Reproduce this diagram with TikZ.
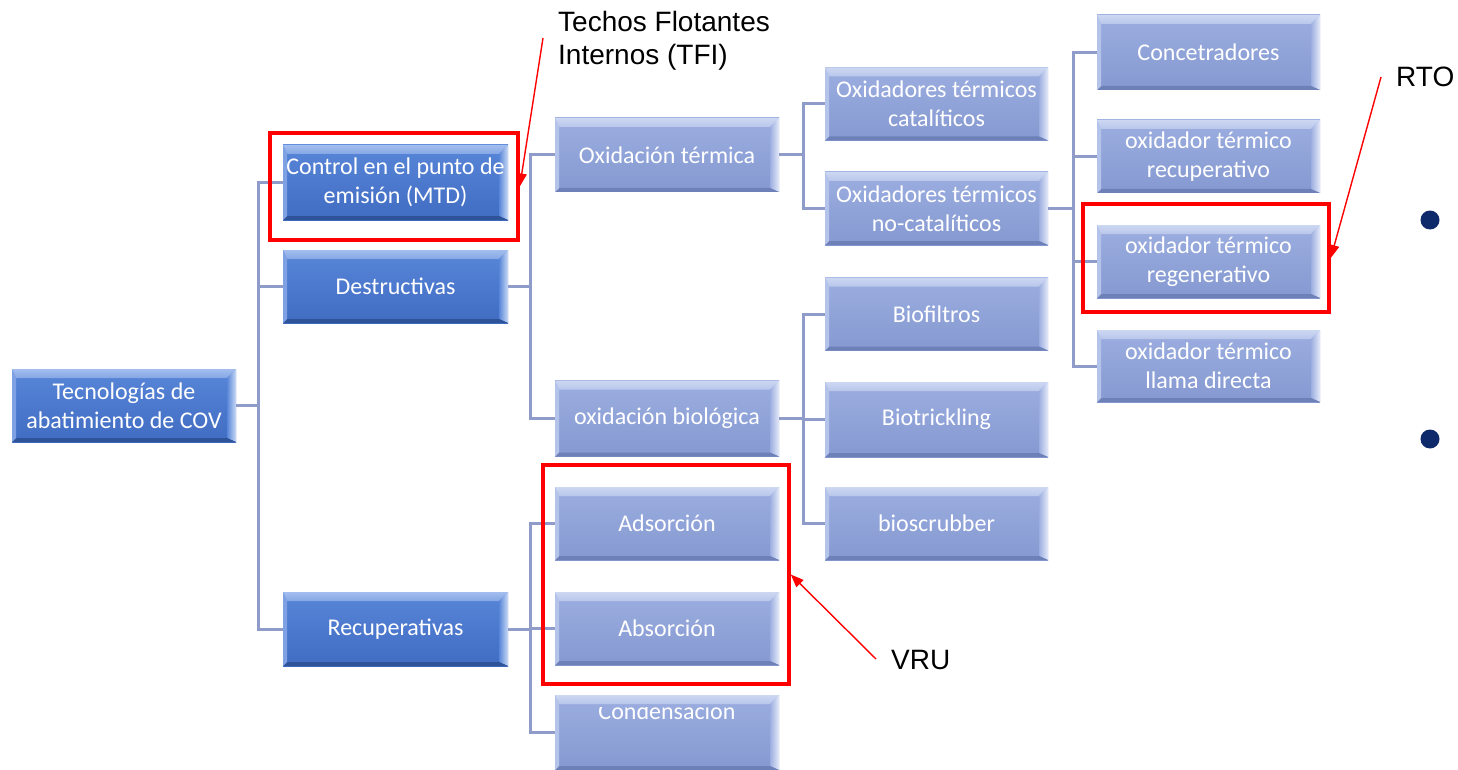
\documentclass[tikz,border=0pt]{standalone}
\usepackage{fontspec}
\newfontfamily\boxfont{Carlito}
\newfontfamily\notefont{Liberation Sans}
\usetikzlibrary{arrows.meta}

% box palettes: fill top, fill bottom, top bevel, right bevel, bottom edge
\definecolor{darkTop}{HTML}{5886D8}
\definecolor{darkBot}{HTML}{406CC2}
\definecolor{darkHi}{HTML}{A3BDEE}
\definecolor{darkSide}{HTML}{CBDAF6}
\definecolor{darkLow}{HTML}{2F5398}
\definecolor{lightTop}{HTML}{9CAEE0}
\definecolor{lightBot}{HTML}{8599D1}
\definecolor{lightHi}{HTML}{CCD7F2}
\definecolor{lightSide}{HTML}{E4EAF9}
\definecolor{lightLow}{HTML}{6E80B8}
\definecolor{linkLine}{HTML}{8F9BC8}
\definecolor{bulletNavy}{HTML}{0E2A6B}
\definecolor{markRed}{HTML}{FF0000}

\tikzset{
  boxtext/.style={text=white, font=\boxfont\fontsize{24pt}{29pt}\selectfont, align=center, inner sep=0pt},
  bev/.style n args={5}{
    boxtext, rectangle, minimum width=224pt, minimum height=74pt,
    top color=#1, bottom color=#2, draw=none,
    path picture={
      \path (path picture bounding box.north west) coordinate (bNW)
            (path picture bounding box.north east) coordinate (bNE)
            (path picture bounding box.south west) coordinate (bSW)
            (path picture bounding box.south east) coordinate (bSE);
      \shade[top color=#3, bottom color=#3!60!#1]
        (bNW) -- (bNE) -- ([xshift=-9pt,yshift=-9pt]bNE) -- ([xshift=4pt,yshift=-9pt]bNW) -- cycle;
      \shade[left color=#1, right color=#4]
        (bNE) -- (bSE) -- ([xshift=-9pt,yshift=4pt]bSE) -- ([xshift=-9pt,yshift=-9pt]bNE) -- cycle;
      \fill[#5]
        (bSE) -- (bSW) -- ([xshift=4pt,yshift=4pt]bSW) -- ([xshift=-9pt,yshift=4pt]bSE) -- cycle;
      \fill[#3!50!#1]
        (bSW) -- (bNW) -- ([xshift=4pt,yshift=-9pt]bNW) -- ([xshift=4pt,yshift=4pt]bSW) -- cycle;
    }},
  darkbox/.style={bev={darkTop}{darkBot}{darkHi}{darkSide}{darkLow}},
  lightbox/.style={bev={lightTop}{lightBot}{lightHi}{lightSide}{lightLow}, minimum width=223pt, minimum height=73pt},
  link/.style={draw=linkLine, line width=3pt},
  markframe/.style={draw=markRed, line width=3.5pt, rectangle, inner sep=0pt},
  callout/.style={draw=markRed, line width=1.4pt, -{Triangle[length=13pt,width=10pt]}},
  note/.style={font=\notefont\fontsize{28pt}{33pt}\selectfont, text=black, inner sep=0pt},
  dot/.style={circle, fill=bulletNavy, minimum size=19pt, inner sep=0pt}
}

\begin{document}
\begin{tikzpicture}[x=1pt, y=-1pt]
\useasboundingbox (0,0) rectangle (1458,770);
\fill[white] (0,0) rectangle (1458,770);

% ---- boxes: root and first level
\node[darkbox, minimum height=73pt] (root) at (124,405.5) {Tecnologías de\\abatimiento de COV};
\node[darkbox, minimum width=225pt, minimum height=75pt] (ctrl) at (395.5,182.5) {Control en el punto de\\emisión (MTD)};
\node[darkbox, minimum width=225pt, minimum height=73pt] (dest) at (395.5,286.5) {Destructivas};
\node[darkbox, minimum width=225pt] (recu) at (395.5,629) {Recuperativas};

% ---- second level
\node[lightbox, minimum width=224pt, minimum height=74pt] (oxt) at (667,155) {Oxidación térmica};
\node[lightbox, minimum width=224pt, minimum height=76pt] (oxb) at (667,418.5) {oxidación biológica};
\node[lightbox, minimum width=224pt] (ads) at (667,523.5) {Adsorción};
\node[lightbox, minimum width=224pt] (abs) at (667,628.5) {Absorción};
\node[lightbox, minimum width=224pt, minimum height=75pt] (cond) at (667,732.5) {};
\begin{scope}
  \clip ([yshift=-13pt]cond.north west) rectangle (cond.south east);
  \node[boxtext, anchor=base] (condtext) at (667,719) {Condensación};
\end{scope}

% ---- third level
\node[lightbox] (cat) at (936.5,104) {Oxidadores térmicos\\catalíticos};
\node[lightbox] (ncat) at (936.5,208.5) {Oxidadores térmicos\\no-catalíticos};
\node[lightbox] (biof) at (936.5,314) {Biofiltros};
\node[lightbox, minimum height=75pt] (biot) at (936.5,419.5) {Biotrickling};
\node[lightbox] (bios) at (936.5,523.5) {bioscrubber};

% ---- fourth level
\node[lightbox, minimum height=75pt] (conc) at (1208.5,52.5) {Concetradores};
\node[lightbox] (orec) at (1208.5,156.5) {oxidador térmico\\recuperativo};
\node[lightbox] (oreg) at (1208.5,261.5) {oxidador térmico\\regenerativo};
\node[lightbox, minimum height=72pt] (olla) at (1208.5,366) {oxidador térmico\\llama directa};

% ---- tree connectors
\foreach \c in {ctrl,dest,recu} \draw[link] (root.east) -- ++(22,0) |- (\c.west);
\foreach \c in {oxt,oxb} \draw[link] (dest.east) -- ++(22,0) |- (\c.west);
\foreach \c in {ads,abs,cond} \draw[link] (recu.east) -- ++(22,0) |- (\c.west);
\foreach \c in {cat,ncat} \draw[link] (oxt.east) -- ++(24,0) |- (\c.west);
\foreach \c in {biof,biot,bios} \draw[link] (oxb.east) -- ++(24,0) |- (\c.west);
\foreach \c in {conc,orec,oreg,olla} \draw[link] (ncat.east) -- ++(25,0) |- (\c.west);

% ---- highlight frames
\node[markframe, minimum width=248pt, minimum height=107pt] (tfiframe) at (394,186.5) {};
\node[markframe, minimum width=246pt, minimum height=108pt] (rtoframe) at (1206,258) {};
\node[markframe, minimum width=246pt, minimum height=219pt] (vruframe) at (666,574.5) {};

% ---- annotations
\node[note, anchor=north west, align=left] (tfilabel) at (558,11.5) {Techos Flotantes\\Internos (TFI)};
\node[note, anchor=base west] (rtolabel) at (1396,87) {RTO};
\node[note, anchor=base west] (vrulabel) at (891,669) {VRU};

\coordinate (tfitail) at (543,38);
\coordinate (rtotail) at (1381,77);
\coordinate (vrutail) at (876,659);
\draw[callout] (tfitail) -- (tfiframe.east);
\draw[callout] (rtotail) -- (rtoframe.east);
\draw[callout] (vrutail) -- (vruframe.east);

% ---- bullets
\node[dot] (dot1) at (1430,220) {};
\node[dot] (dot2) at (1430,439) {};
\end{tikzpicture}
\end{document}
